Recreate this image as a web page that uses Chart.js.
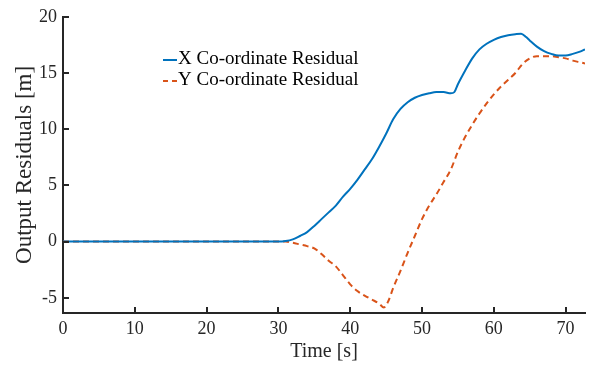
<!DOCTYPE html>
<html>
<head>
<meta charset="utf-8">
<script src="https://cdn.jsdelivr.net/npm/chart.js@4/dist/chart.umd.min.js"></script>
<style>
  html, body { margin: 0; padding: 0; background: #fff; }
  #wrap { width: 594px; height: 370px; position: relative; }
</style>
</head>
<body>
<div id="wrap"><canvas id="chart"></canvas></div>
<script>
// --- data ---
const xTime = [0, 30, 31, 32, 33, 34, 35, 36, 37, 38, 39, 40, 41, 42, 43, 44, 45, 46, 47, 48, 49, 50, 51, 52, 53, 54, 54.5, 55, 56, 57, 58, 59, 60, 61, 62, 63, 63.8, 64.5, 65, 66, 67, 68, 69, 70, 71, 72, 72.7];
const xResidual = [0, 0, 0.05, 0.2, 0.5, 0.85, 1.4, 2.0, 2.6, 3.2, 4.0, 4.7, 5.5, 6.4, 7.3, 8.4, 9.6, 10.9, 11.8, 12.4, 12.8, 13.05, 13.2, 13.3, 13.3, 13.2, 13.3, 14.0, 15.2, 16.3, 17.1, 17.6, 17.95, 18.2, 18.35, 18.45, 18.5, 18.2, 17.9, 17.35, 16.95, 16.7, 16.55, 16.55, 16.7, 16.9, 17.1];

const yTime = [0, 31, 32, 33, 34, 35, 36, 37, 38, 39, 40, 41, 42, 43, 44, 44.7, 45.3, 46, 47, 48, 49, 50, 51, 52, 53, 54, 55, 56, 57, 58, 59, 60, 61, 62, 63, 64, 65, 66, 67, 68, 69, 70, 71, 72, 72.7];
const yResidual = [0, 0, -0.1, -0.25, -0.4, -0.6, -1.1, -1.7, -2.2, -3.0, -3.8, -4.4, -4.8, -5.15, -5.5, -5.85, -5.3, -4.1, -2.6, -1.0, 0.5, 2.0, 3.2, 4.2, 5.3, 6.4, 8.0, 9.3, 10.4, 11.4, 12.3, 13.1, 13.8, 14.4, 15.0, 15.8, 16.3, 16.5, 16.5, 16.5, 16.4, 16.3, 16.1, 15.95, 15.85];

const seriesNames = ["X Co-ordinate Residual", "Y Co-ordinate Residual"];
const xTicks = [0, 10, 20, 30, 40, 50, 60, 70];
const yTicks = [-5, 0, 5, 10, 15, 20];

const SERIF = "'Liberation Serif', 'DejaVu Serif', serif";
const AXIS = "#262626";
const BLUE = "#0072BD";
const RED = "#D95319";

const toPoints = (t, v) => t.map((x, i) => ({ x: x, y: v[i] }));

// inward tick marks (matlab style)
const inwardTicks = {
  id: "inwardTicks",
  afterDatasetsDraw(chart) {
    const { ctx, chartArea, scales } = chart;
    ctx.save();
    ctx.strokeStyle = AXIS;
    ctx.lineWidth = 2;
    ctx.beginPath();
    xTicks.forEach(v => {
      const px = Math.round(scales.x.getPixelForValue(v));
      ctx.moveTo(px, chartArea.bottom);
      ctx.lineTo(px, chartArea.bottom - 6);
    });
    yTicks.forEach(v => {
      const py = Math.round(scales.y.getPixelForValue(v));
      ctx.moveTo(chartArea.left, py);
      ctx.lineTo(chartArea.left + 6, py);
    });
    ctx.stroke();
    ctx.restore();
  }
};

// legend without frame, placed inside the axes
const innerLegend = {
  id: "innerLegend",
  afterDraw(chart) {
    const { ctx } = chart;
    const rows = [
      { y: 60, color: BLUE, dash: [] },
      { y: 81, color: RED, dash: [5, 4] }
    ];
    ctx.save();
    ctx.font = "19px " + SERIF;
    ctx.textBaseline = "middle";
    ctx.fillStyle = "#000";
    rows.forEach((r, i) => {
      ctx.strokeStyle = r.color;
      ctx.lineWidth = 2;
      ctx.setLineDash(r.dash);
      ctx.beginPath();
      ctx.moveTo(163, r.y);
      ctx.lineTo(177, r.y);
      ctx.stroke();
      ctx.setLineDash([]);
      ctx.fillText(seriesNames[i], 178, r.y - 1);
    });
    ctx.restore();
  }
};

new Chart(document.getElementById("chart"), {
  type: "line",
  data: {
    datasets: [
      {
        label: seriesNames[0],
        data: toPoints(xTime, xResidual),
        borderColor: BLUE,
        borderWidth: 2,
        pointRadius: 0,
        cubicInterpolationMode: "monotone",
        fill: false
      },
      {
        label: seriesNames[1],
        data: toPoints(yTime, yResidual),
        borderColor: RED,
        borderWidth: 2,
        borderDash: [6, 4],
        pointRadius: 0,
        cubicInterpolationMode: "monotone",
        fill: false
      }
    ]
  },
  options: {
    responsive: true,
    maintainAspectRatio: false,
    animation: false,
    layout: { padding: { top: 10, right: 9, left: 0, bottom: 0 } },
    plugins: {
      legend: { display: false },
      tooltip: { enabled: false }
    },
    scales: {
      x: {
        type: "linear",
        min: 0,
        max: 72.7,
        grid: { display: false, drawTicks: false },
        border: { display: true, color: AXIS, width: 2 },
        afterBuildTicks: s => { s.ticks = xTicks.map(v => ({ value: v })); },
        afterFit: s => { s.height = 57; },
        ticks: {
          color: "#262626",
          padding: 5,
          maxRotation: 0,
          font: { family: SERIF, size: 18 }
        },
        title: {
          display: true,
          text: "Time [s]",
          color: "#262626",
          padding: { top: 0, bottom: 6 },
          font: { family: SERIF, size: 20 }
        }
      },
      y: {
        type: "linear",
        min: -6.35,
        max: 20,
        grid: { display: false, drawTicks: false },
        border: { display: true, color: AXIS, width: 2 },
        afterBuildTicks: s => { s.ticks = yTicks.map(v => ({ value: v })); },
        afterFit: s => { s.width = 63; },
        ticks: {
          color: "#262626",
          padding: 6,
          font: { family: SERIF, size: 18 },
          callback: v => String(v)
        },
        title: {
          display: true,
          text: "Output Residuals [m]",
          color: "#262626",
          padding: { top: 11, bottom: 0 },
          font: { family: SERIF, size: 23 }
        }
      }
    }
  },
  plugins: [inwardTicks, innerLegend]
});
</script>
</body>
</html>
